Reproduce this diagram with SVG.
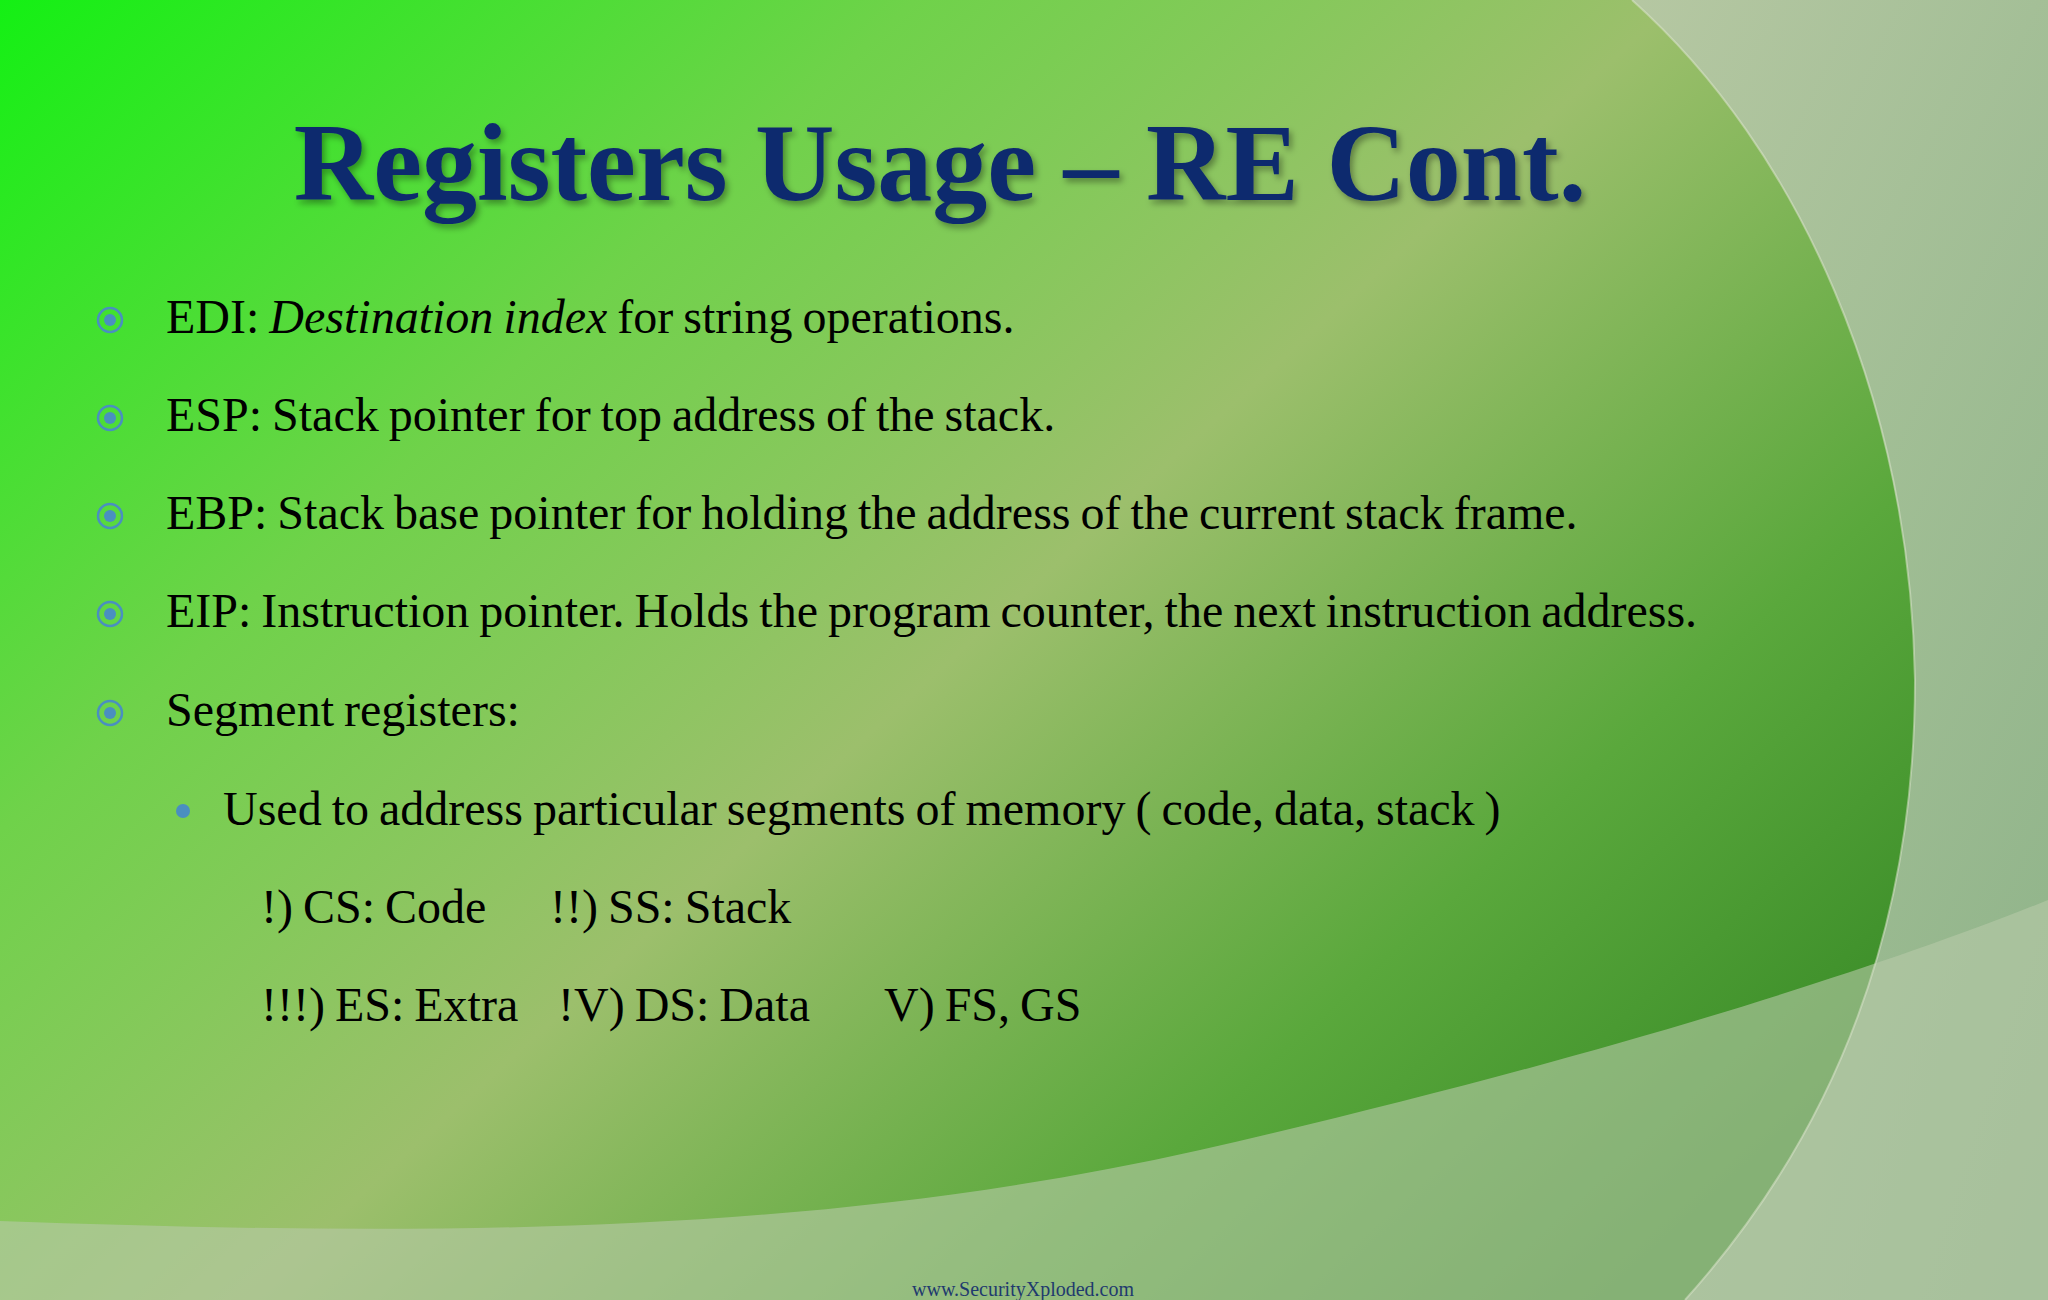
<svg xmlns="http://www.w3.org/2000/svg" width="2048" height="1300" viewBox="0 0 2048 1300">
<defs>
<linearGradient id="bg" x1="0" y1="0" x2="1" y2="0.7">
<stop offset="0" stop-color="#14f014"/>
<stop offset="0.3" stop-color="#6fd24a"/>
<stop offset="0.55" stop-color="#9cbf6c"/>
<stop offset="0.8" stop-color="#5aa83c"/>
<stop offset="1" stop-color="#3a8c28"/>
</linearGradient>
<linearGradient id="side" x1="0" y1="0" x2="1" y2="1">
<stop offset="0" stop-color="#b8c8a8"/>
<stop offset="1" stop-color="#98b894"/>
</linearGradient>
<filter id="sh"><feDropShadow dx="3" dy="4" stdDeviation="3" flood-color="#000" flood-opacity="0.35"/></filter>
<g id="bul"><circle r="12" fill="none" stroke="#4a8fc0" stroke-width="2.5"/><circle r="6" fill="#4a8fc0"/></g>
</defs>
<style>
.t{font-family:"Liberation Serif",serif;font-size:48px;fill:#000;word-spacing:-2px}
.title{font-family:"Liberation Serif",serif;font-size:110px;font-weight:bold;fill:#0f2a6e}
</style>
<rect width="2048" height="1300" fill="url(#bg)"/>
<path d="M1632,0 C1800,150 1910,400 1915,680 C1915,950 1820,1150 1685,1300 L2048,1300 L2048,0 Z" fill="url(#side)" opacity="0.9"/>
<path d="M0,1221 C400,1235 800,1240 1200,1150 C1550,1070 1850,980 2048,900 L2048,1300 L0,1300 Z" fill="#b7c9a8" opacity="0.6"/>
<path d="M1632,0 C1800,150 1910,400 1915,680 C1915,950 1820,1150 1685,1300" fill="none" stroke="#dfe8d0" stroke-width="2" opacity="0.5"/>
<text class="title" x="940" y="200" text-anchor="middle" filter="url(#sh)">Registers Usage – RE Cont.</text>
<g id="b1"><use href="#bul" x="110" y="320"/><text class="t" x="166" y="333">EDI: <tspan font-style="italic">Destination index</tspan> for string operations.</text></g>
<g id="b2"><use href="#bul" x="110" y="418"/><text class="t" x="166" y="431">ESP: Stack pointer for top address of the stack.</text></g>
<g id="b3"><use href="#bul" x="110" y="516"/><text class="t" x="166" y="529">EBP: Stack base pointer for holding the address of the current stack frame.</text></g>
<g id="b4"><use href="#bul" x="110" y="614"/><text class="t" x="166" y="627">EIP: Instruction pointer. Holds the program counter, the next instruction address.</text></g>
<g id="b5"><use href="#bul" x="110" y="713"/><text class="t" x="166" y="726">Segment registers:</text></g>
<g id="s1"><circle cx="183" cy="811" r="7" fill="#4a8fc0"/><text class="t" x="223" y="825">Used to address particular segments of memory ( code, data, stack )</text></g>
<g id="s2"><text class="t" x="261" y="923">!) CS: Code</text><text class="t" x="550" y="923">!!) SS: Stack</text></g>
<g id="s3"><text class="t" x="261" y="1021">!!!) ES: Extra</text><text class="t" x="558" y="1021">!V) DS: Data</text><text class="t" x="884" y="1021">V) FS, GS</text></g>
<text x="1023" y="1296" text-anchor="middle" font-family="Liberation Serif,serif" font-size="20" fill="#1f3a6e">www.SecurityXploded.com</text>
</svg>
